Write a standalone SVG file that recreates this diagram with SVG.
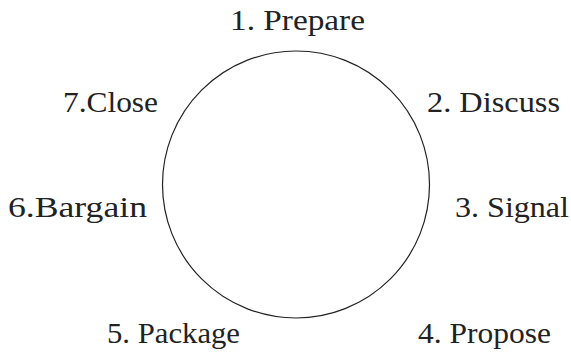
<svg xmlns="http://www.w3.org/2000/svg" width="571" height="353" viewBox="0 0 571 353">
<style>
.lbl{font-family:"Liberation Serif","DejaVu Serif",serif;font-size:29px;fill:#222;}
.ring{fill:#fff;stroke:#222;stroke-width:1.2;}
</style>
<rect width="571" height="353" fill="#fff"/>
<g id="cycle"><circle class="ring" cx="296" cy="184.5" r="133.5"/></g>
<g id="connectors"></g>
<g id="n1"><text class="lbl" x="230" y="30" textLength="135" lengthAdjust="spacingAndGlyphs">1. Prepare</text></g>
<g id="n2"><text class="lbl" x="427" y="112" textLength="133" lengthAdjust="spacingAndGlyphs">2. Discuss</text></g>
<g id="n3"><text class="lbl" x="455" y="217" textLength="114" lengthAdjust="spacingAndGlyphs">3. Signal</text></g>
<g id="n4"><text class="lbl" x="418" y="343" textLength="133" lengthAdjust="spacingAndGlyphs">4. Propose</text></g>
<g id="n5"><text class="lbl" x="107" y="343" textLength="133" lengthAdjust="spacingAndGlyphs">5. Package</text></g>
<g id="n6"><text class="lbl" x="8" y="217" textLength="139" lengthAdjust="spacingAndGlyphs">6.Bargain</text></g>
<g id="n7"><text class="lbl" x="63" y="112" textLength="95" lengthAdjust="spacingAndGlyphs">7.Close</text></g>
</svg>
